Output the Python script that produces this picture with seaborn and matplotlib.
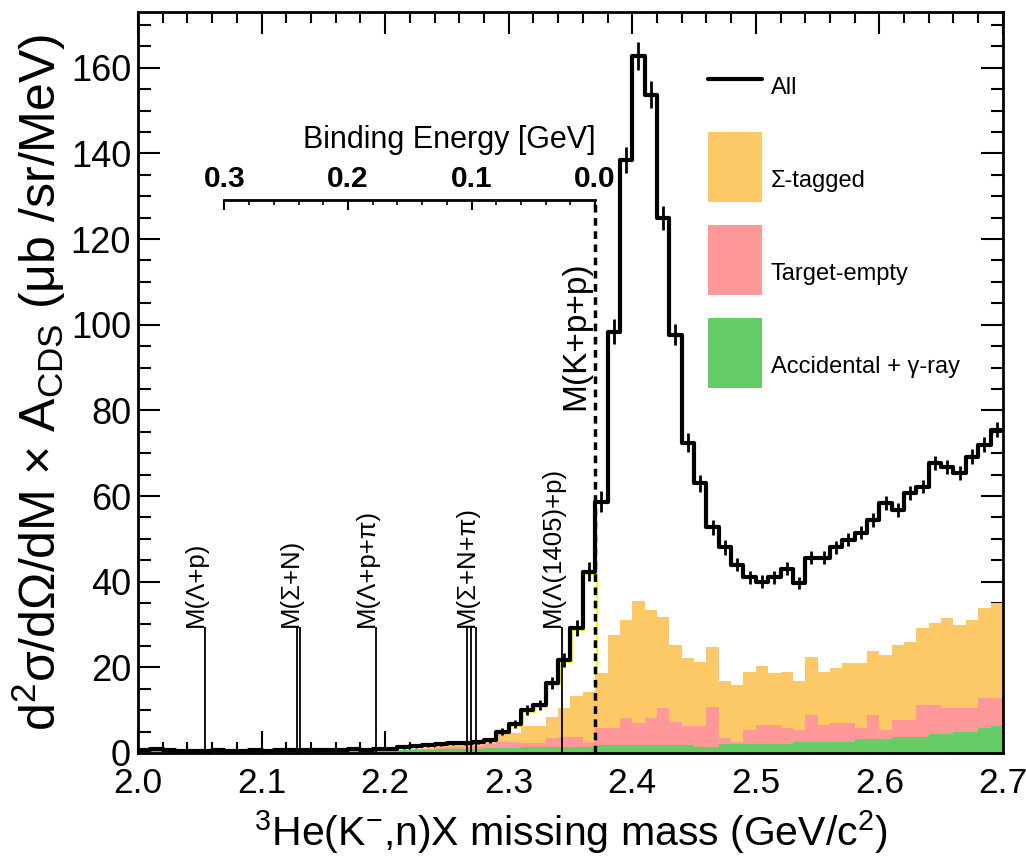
import numpy as np
import pandas as pd
import matplotlib
matplotlib.use("Agg")
import matplotlib.pyplot as plt
import matplotlib.transforms as mtransforms
from matplotlib.lines import Line2D
from matplotlib.patches import Patch, Rectangle
from matplotlib.legend_handler import HandlerPatch
from matplotlib.ticker import MultipleLocator, FormatStrFormatter
import seaborn as sns

# ---------------- data (10 MeV bins, 2.00 ... 2.70 GeV/c^2) ----------------
mass_min = 2.00
bin_width = 0.01
n_bins = 70

all_counts = [
    0.8, 0.9, 0.6, 0.5, 0.5, 0.5, 0.6, 0.5, 0.5, 0.6,
    0.5, 0.6, 0.7, 0.8, 0.6, 0.7, 0.8, 0.9, 0.8, 1.0,
    1.0, 1.3, 1.6, 1.8, 2.1, 2.3, 2.4, 2.5, 3.0, 5.0,
    6.8, 10.0, 11.2, 16.4, 21.7, 29.2, 42.3, 58.7, 98.4, 138.5,
    162.7, 153.7, 124.9, 97.7, 72.4, 63.0, 52.7, 48.0, 44.0, 41.0,
    40.0, 41.0, 43.0, 39.7, 45.6, 45.6, 48.0, 49.8, 51.4, 54.4,
    58.4, 56.8, 60.7, 62.2, 67.7, 66.8, 65.4, 69.2, 72.0, 75.5,
]
all_errors = [
    0.3, 0.3, 0.3, 0.2, 0.2, 0.2, 0.3, 0.2, 0.2, 0.3,
    0.2, 0.3, 0.3, 0.3, 0.3, 0.3, 0.3, 0.3, 0.3, 0.3,
    0.3, 0.4, 0.4, 0.4, 0.5, 0.5, 0.5, 0.5, 0.6, 0.8,
    0.9, 1.1, 1.1, 1.4, 1.6, 1.8, 2.2, 2.5, 3.0, 3.0,
    3.2, 3.1, 2.8, 2.5, 2.2, 2.0, 1.8, 1.7, 1.6, 1.5,
    1.5, 1.5, 1.5, 1.5, 1.5, 1.5, 1.5, 1.5, 1.5, 1.6,
    1.6, 1.6, 1.6, 1.6, 1.7, 1.7, 1.7, 1.7, 1.8, 1.8,
]
# stacked histogram: top of each layer
sigma_tagged_top = [
    0.3, 0.3, 0.2, 0.2, 0.2, 0.2, 0.3, 0.2, 0.2, 0.2,
    0.3, 0.3, 0.6, 1.0, 0.5, 0.9, 0.8, 0.4, 0.3, 0.9,
    0.6, 0.8, 1.0, 1.2, 1.8, 2.2, 2.3, 2.3, 2.5, 4.7,
    4.7, 6.2, 6.2, 8.5, 10.5, 13.2, 14.3, 18.7, 27.6, 31.0,
    35.5, 33.5, 31.8, 25.2, 22.2, 21.3, 24.8, 16.7, 15.9, 19.0,
    20.2, 18.7, 19.0, 16.7, 22.5, 19.0, 19.8, 21.0, 21.0, 23.7,
    22.9, 25.2, 26.0, 29.1, 30.4, 31.5, 29.9, 31.1, 33.8, 35.0,
]
target_empty_top = [
    0.5, 0.6, 0.4, 0.4, 0.5, 0.4, 0.5, 0.4, 0.4, 0.5,
    0.5, 0.5, 0.6, 0.7, 0.5, 0.6, 0.7, 0.5, 0.6, 0.7,
    0.8, 0.8, 0.9, 1.0, 1.2, 1.4, 1.5, 1.6, 2.0, 2.6,
    2.6, 2.4, 2.4, 3.5, 3.8, 3.8, 2.6, 5.8, 5.8, 8.2,
    7.0, 8.2, 10.5, 7.3, 6.2, 6.2, 10.8, 3.4, 2.6, 5.4,
    6.5, 6.5, 5.8, 5.4, 8.9, 6.5, 6.9, 6.9, 5.8, 8.9,
    5.4, 7.7, 7.7, 11.2, 11.2, 10.4, 10.4, 10.4, 12.8, 12.8,
]
accidental_top = [
    0.5, 0.5, 0.4, 0.4, 0.4, 0.4, 0.5, 0.4, 0.4, 0.4,
    0.5, 0.5, 0.5, 0.6, 0.5, 0.5, 0.6, 0.5, 0.6, 0.6,
    0.7, 0.7, 0.8, 0.8, 0.9, 0.9, 1.0, 1.0, 1.1, 1.2,
    1.2, 1.3, 1.3, 1.3, 1.4, 1.4, 1.4, 1.9, 1.9, 1.9,
    1.9, 1.9, 1.9, 1.9, 1.9, 1.5, 1.5, 2.0, 2.0, 2.0,
    2.0, 2.0, 2.0, 2.6, 2.6, 2.6, 2.6, 2.6, 3.2, 3.2,
    3.2, 3.8, 3.8, 3.8, 4.4, 4.4, 5.0, 5.0, 5.8, 6.3,
]

legend_labels = ["All", "Σ-tagged", "Target-empty", "Accidental + γ-ray"]

threshold_labels = ["M(Λ+p)", "M(Σ+N)", "M(Λ+p+π)", "M(Σ+N+π)", "M(Λ(1405)+p)"]
threshold_masses = [[2.054], [2.1289, 2.1309], [2.1926], [2.2662, 2.2697, 2.2735], [2.3433]]
threshold_height = 29.5

kpp_label = "M(K+p+p)"
kpp_mass = 2.370
be_axis_level = 129.2
be_ticks = [0.0, 0.1, 0.2, 0.3]
be_tick_labels = ["0.0", "0.1", "0.2", "0.3"]

xticks = [2.0, 2.1, 2.2, 2.3, 2.4, 2.5, 2.6, 2.7]
yticks = [0, 20, 40, 60, 80, 100, 120, 140, 160]

# ---------------- style ----------------
sns.set_theme(style="ticks")
plt.rcParams["font.family"] = ["Liberation Sans", "DejaVu Sans"]
plt.rcParams["mathtext.fontset"] = "custom"
plt.rcParams["mathtext.rm"] = "Liberation Sans"
plt.rcParams["mathtext.it"] = "Liberation Sans:italic"
plt.rcParams["mathtext.bf"] = "Liberation Sans:bold"
plt.rcParams["text.color"] = "black"
plt.rcParams["axes.labelcolor"] = "black"
plt.rcParams["xtick.color"] = "black"
plt.rcParams["ytick.color"] = "black"
plt.rcParams["axes.edgecolor"] = "black"

c_orange = "#FDC866"
c_pink = "#FF9999"
c_green = "#66CC66"
c_yellow = "#FFFF00"

edges = np.round(mass_min + bin_width * np.arange(n_bins + 1), 4)
centers = edges[:-1] + bin_width / 2
bin_list = [float(e) for e in edges]

df = pd.DataFrame({
    "mass": centers,
    "all": all_counts,
    "sigma": sigma_tagged_top,
    "empty": target_empty_top,
    "acc": accidental_top,
})

fig = plt.figure(figsize=(10.26, 8.65), dpi=100)
ax = fig.add_axes([0.1345, 0.1295, 0.843, 0.8566])

# stacked background components (drawn from the top layer down)
for col_name, col in [("sigma", c_orange), ("empty", c_pink), ("acc", c_green)]:
    sns.histplot(data=df, x="mass", weights=col_name, bins=bin_list, element="step", fill=True,
                 color=col, alpha=1, linewidth=0, ax=ax, zorder=1)

# yellow outline below the threshold
offset = mtransforms.ScaledTranslation(1.5 / 100, -2 / 100, fig.dpi_scale_trans)
ax.stairs(np.asarray(all_counts[26:37]), edges[26:38], baseline=0, color=c_yellow, lw=1.6,
          transform=ax.transData + offset, zorder=0.8)

# threshold lines and labels
for lab, ms in zip(threshold_labels, threshold_masses):
    ax.vlines(ms, 0, threshold_height, colors="black", lw=1.3, zorder=3)
    ax.annotate(lab, xy=(max(ms), threshold_height), xytext=(2, 0), textcoords="offset points",
                rotation=90, ha="right", va="bottom", fontsize=18.5, zorder=3)

# all events histogram
sns.histplot(data=df, x="mass", weights="all", bins=bin_list, element="step", fill=False,
             color="black", linewidth=3, ax=ax, zorder=4)
ax.errorbar(centers, all_counts, yerr=all_errors, fmt="none", ecolor="black",
            elinewidth=2, capsize=0, zorder=4)

# K+p+p threshold
ax.vlines(kpp_mass, 0, be_axis_level, colors="black", linestyles=(0, (2.2, 1.6)), lw=2.5, zorder=5)
ax.annotate(kpp_label, xy=(kpp_mass, 80), xytext=(-3, 0), textcoords="offset points",
            rotation=90, ha="right", va="bottom", fontsize=24, zorder=5)

ax.set_xlim(xticks[0], xticks[-1])
ax.set_ylim(0, 173)

# binding energy axis
ax_be = ax.inset_axes([kpp_mass - 0.3, be_axis_level, 0.3, 0.01], transform=ax.transData)
ax_be.set_xlim(0.3, 0.0)
ax_be.patch.set_alpha(0)
for s in ["top", "left", "right"]:
    ax_be.spines[s].set_visible(False)
ax_be.spines["bottom"].set_linewidth(2)
ax_be.yaxis.set_visible(False)
ax_be.set_xticks(be_ticks, labels=be_tick_labels, fontweight="bold", fontsize=21.5)
ax_be.xaxis.set_minor_locator(MultipleLocator(0.02))
ax_be.tick_params(axis="x", which="both", direction="out", bottom=True, top=False,
                  labelbottom=False, labeltop=True)
ax_be.tick_params(axis="x", which="major", length=7, width=1.5, pad=-2)
ax_be.tick_params(axis="x", which="minor", length=3.5, width=1.2)
ax_be.set_title("Binding Energy [GeV]", loc="right", fontsize=22, pad=12)

# main axes ticks
ax.set_xticks(xticks)
ax.set_yticks(yticks)
ax.xaxis.set_major_formatter(FormatStrFormatter("%.1f"))
ax.xaxis.set_minor_locator(MultipleLocator(0.02))
ax.yaxis.set_minor_locator(MultipleLocator(5))
ax.tick_params(which="both", direction="in", top=True, right=True, width=1.5, colors="black")
ax.tick_params(axis="x", which="major", length=16, pad=10, labelsize=25.5)
ax.tick_params(axis="x", which="minor", length=8)
ax.tick_params(axis="y", which="major", length=16, pad=5, labelsize=26)
ax.tick_params(axis="y", which="minor", length=9)
for s in ax.spines.values():
    s.set_linewidth(2)
    s.set_color("black")

ax.set_xlabel(r"$^{3}$He(K$^{-}$,n)X missing mass (GeV/c$^{2}$)", fontsize=29.5, labelpad=6)
ax.set_ylabel(r"d$^{2}$σ/dΩ/dM × A$_{\mathrm{CDS}}$ (μb /sr/MeV)", fontsize=36, labelpad=2)


def tall_patch(legend, orig_handle, xdescent, ydescent, width, height, fontsize):
    # colour box extends above the label row, text sits in its lower part
    return Rectangle((-xdescent, -ydescent), width, height + 1.05 * fontsize)


handles = [Line2D([], [], color="black", lw=3),
           Patch(facecolor=c_orange, edgecolor="none"),
           Patch(facecolor=c_pink, edgecolor="none"),
           Patch(facecolor=c_green, edgecolor="none")]
ax.legend(handles, legend_labels, loc="upper left", bbox_to_anchor=(0.659, 0.930),
          frameon=False, fontsize=17, handlelength=2.3, handleheight=2.58,
          labelspacing=2.02, handletextpad=0.35, borderpad=0, borderaxespad=0,
          handler_map={Patch: HandlerPatch(patch_func=tall_patch)})

fig.savefig("out.png", dpi=100)
